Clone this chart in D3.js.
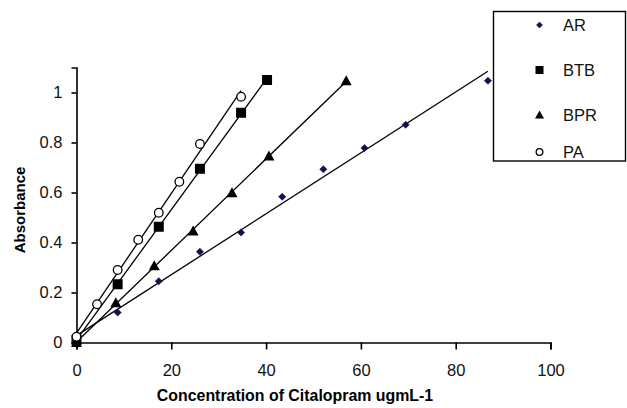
<!DOCTYPE html>
<html>
<head>
<meta charset="utf-8">
<script src="https://cdn.jsdelivr.net/npm/d3@7"></script>
<style>
  html, body { margin: 0; padding: 0; background: #fff; }
  svg { display: block; }
  text { font-family: "Liberation Sans", Arial, sans-serif; }
</style>
</head>
<body>
<svg id="chart" width="627" height="408"></svg>
<script>
// Calibration data: absorbance vs. citalopram concentration for four dyes
const xTicks = [0, 20, 40, 60, 80, 100];
const yTicks = [0, 0.2, 0.4, 0.6, 0.8, 1];

const arX  = [0, 8.68, 17.36, 26.04, 34.72, 43.4, 52.08, 60.76, 69.44, 86.8];
const arY  = [0, 0.12, 0.245, 0.363, 0.44, 0.583, 0.693, 0.778, 0.871, 1.047];

const btbX = [0, 8.68, 17.36, 26.04, 34.72, 40.2];
const btbY = [0.01, 0.233, 0.463, 0.695, 0.919, 1.05];

const bprX = [0, 8.3, 16.4, 24.6, 32.8, 40.6, 56.9];
const bprY = [0, 0.159, 0.307, 0.446, 0.599, 0.746, 1.047];

const paX  = [0, 4.34, 8.68, 13.02, 17.36, 21.7, 26.04, 34.72];
const paY  = [0.023, 0.153, 0.29, 0.411, 0.519, 0.643, 0.794, 0.983];

const seriesNames = ["AR", "BTB", "BPR", "PA"];

const series = [
  { name: seriesNames[0], xs: arX,  ys: arY,  shape: "diamond" },
  { name: seriesNames[1], xs: btbX, ys: btbY, shape: "square" },
  { name: seriesNames[2], xs: bprX, ys: bprY, shape: "triangle" },
  { name: seriesNames[3], xs: paX,  ys: paY,  shape: "circle" }
];

const svg = d3.select("#chart");

const x = d3.scaleLinear().domain([0, 100]).range([76.5, 550.5]);
const y = d3.scaleLinear().domain([0, 1.1]).range([342.5, 67.5]);

// least-squares trend line for a series
function fit(xs, ys) {
  const n = xs.length;
  const mx = d3.mean(xs), my = d3.mean(ys);
  let sxy = 0, sxx = 0;
  for (let i = 0; i < n; i++) {
    sxy += (xs[i] - mx) * (ys[i] - my);
    sxx += (xs[i] - mx) * (xs[i] - mx);
  }
  const b = sxy / sxx;
  return { b, a: my - b * mx };
}

// trend lines
series.forEach(s => {
  const f = fit(s.xs, s.ys);
  const x0 = d3.min(s.xs), x1 = d3.max(s.xs);
  svg.append("line")
    .attr("x1", x(x0)).attr("y1", y(f.a + f.b * x0))
    .attr("x2", x(x1)).attr("y2", y(f.a + f.b * x1))
    .attr("stroke", "#000").attr("stroke-width", 1.3);
});

// axes
const xAxis = d3.axisBottom(x).tickValues(xTicks).tickSize(7).tickPadding(15)
  .tickFormat(d3.format("d"));
const gx = svg.append("g").attr("transform", `translate(0,${y(0)})`).call(xAxis);

const yAxis = d3.axisLeft(y).tickValues(yTicks).tickSize(5).tickPadding(9)
  .tickFormat(d => d === 0 || d === 1 ? d3.format("d")(d) : d3.format(".1f")(d));
const gy = svg.append("g").attr("transform", `translate(${x(0)},0)`).call(yAxis);

[gx, gy].forEach(g => {
  g.select(".domain").attr("stroke", "#000").attr("stroke-width", 1.6);
  g.selectAll(".tick line").attr("stroke", "#000").attr("stroke-width", 1.6);
  g.selectAll(".tick text")
    .attr("fill", "#111")
    .style("font-family", "'Liberation Sans', Arial, sans-serif")
    .style("font-size", "16.5px");
});

// markers
function drawMarker(g, shape, cx, cy, big) {
  if (shape === "diamond") {
    const r = big ? 3.6 : 3;
    g.append("path")
      .attr("d", `M${cx},${cy - r}L${cx + r},${cy}L${cx},${cy + r}L${cx - r},${cy}Z`)
      .attr("fill", "#101050").attr("stroke", "#101050").attr("stroke-width", 0.6);
  } else if (shape === "square") {
    const h = big ? 5 : 4;
    g.append("rect")
      .attr("x", cx - h).attr("y", cy - h).attr("width", 2 * h).attr("height", 2 * h)
      .attr("fill", "#000");
  } else if (shape === "triangle") {
    const h = big ? 5.5 : 4.5;
    g.append("path")
      .attr("d", `M${cx},${cy - h}L${cx + h},${cy + h * 0.8}L${cx - h},${cy + h * 0.8}Z`)
      .attr("fill", "#000");
  } else {
    g.append("circle")
      .attr("cx", cx).attr("cy", cy).attr("r", big ? 4.3 : 3.3)
      .attr("fill", "#fff").attr("stroke", "#000").attr("stroke-width", 1.3);
  }
}

const marks = svg.append("g");
series.forEach(s => {
  s.xs.forEach((xv, i) => drawMarker(marks, s.shape, x(xv), y(s.ys[i]), true));
});

// axis titles
svg.append("text")
  .attr("transform", "translate(25,210) rotate(-90)")
  .attr("text-anchor", "middle")
  .style("font-size", "15px").style("font-weight", "bold")
  .text("Absorbance");

svg.append("text")
  .attr("x", 295).attr("y", 401)
  .attr("text-anchor", "middle")
  .style("font-size", "15.9px").style("font-weight", "bold")
  .text("Concentration of Citalopram ugmL-1");

// legend
const legend = svg.append("g");
legend.append("rect")
  .attr("x", 493.5).attr("y", 11.5).attr("width", 132).attr("height", 149.5)
  .attr("fill", "#fff").attr("stroke", "#000").attr("stroke-width", 1.4);

const rowY = [25, 70, 115, 152];
series.forEach((s, i) => {
  drawMarker(legend, s.shape, 539.5, rowY[i], false);
  legend.append("text")
    .attr("x", 563).attr("y", rowY[i]).attr("dy", "0.36em")
    .style("font-size", "16.5px").attr("fill", "#111")
    .text(s.name);
});
</script>
</body>
</html>
